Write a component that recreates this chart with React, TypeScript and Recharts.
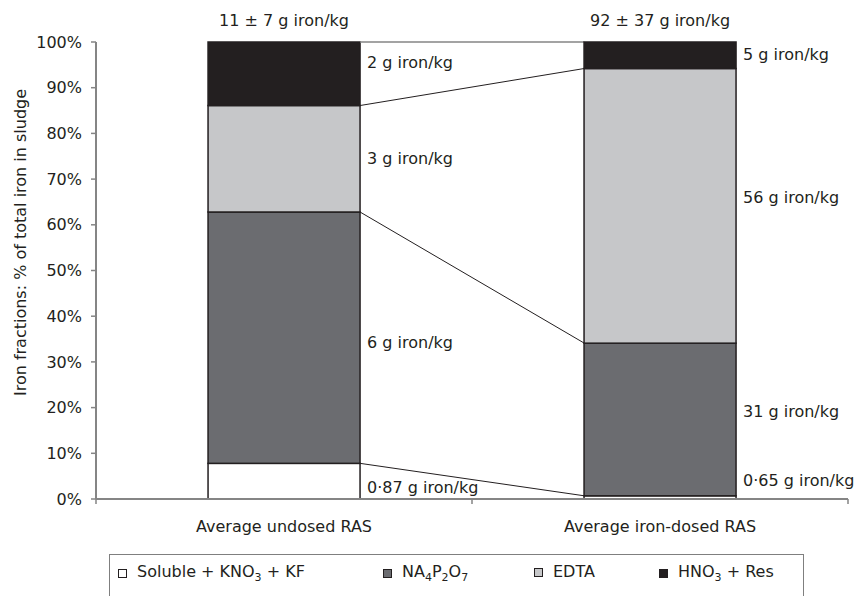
import React from "react"
import { BarChart, Bar, XAxis, YAxis, Label, LabelList, Legend } from "recharts"

const categories = ["Average undosed RAS", "Average iron-dosed RAS"]
const totals = ["11 ± 7 g iron/kg", "92 ± 37 g iron/kg"]

const seriesNames = ["Soluble + KNO_3 + KF", "NA_4P_2O_7", "EDTA", "HNO_3 + Res"]

// % of total iron
const soluble = [7.8, 0.7]
const pyro = [55.0, 33.4]
const edta = [23.3, 60.1]
const hno3 = [13.9, 5.8]

const solubleLabels = ["0·87 g iron/kg", "0·65 g iron/kg"]
const pyroLabels = ["6 g iron/kg", "31 g iron/kg"]
const edtaLabels = ["3 g iron/kg", "56 g iron/kg"]
const hno3Labels = ["2 g iron/kg", "5 g iron/kg"]

const yTicks = [0, 10, 20, 30, 40, 50, 60, 70, 80, 90, 100]

const FONT = '"DejaVu Sans", sans-serif'
const INK = "#231f20"
const AXIS = "#858585"
const GAP = 0.298 // barCategoryGap as a fraction of the band

const seriesKeys = ["soluble", "pyro", "edta", "hno3"]
const seriesValues = [soluble, pyro, edta, hno3]
const seriesLabels = [solubleLabels, pyroLabels, edtaLabels, hno3Labels]
const colors = ["#ffffff", "#6b6c70", "#c6c7c9", "#231f20"]

// manual label nudges (px) per series, per bar
const labelNudge: Record<string, number[]> = {
  soluble: [6, -17],
  pyro: [5, -8],
  edta: [0, -8],
  hno3: [-11, -1],
}

const data = categories.map((name, i) => {
  const row: Record<string, any> = { name, total: totals[i] }
  seriesKeys.forEach((k, s) => {
    row[k] = seriesValues[s][i]
    row[k + "Label"] = seriesLabels[s][i]
  })
  return row
})

// cumulative tops of every segment, for the series lines between the bars
const cumTops = categories.map((_, i) => {
  let sum = 0
  return seriesValues.map((vals) => (sum += vals[i]))
})

function withSubs(text: string) {
  return text.split(/(_\d)/).map((part, i) =>
    part.startsWith("_") ? (
      <span key={i} style={{ fontSize: 11, position: "relative", top: 4 }}>
        {part.slice(1)}
      </span>
    ) : (
      <span key={i}>{part}</span>
    )
  )
}

// bar segment + the series line from its top right corner to the same segment on the next bar
const segmentShape = (s: number) => (props: any) => {
  const { x, y, width, height, index } = props
  const value = seriesValues[s][index]
  let line = null
  if (index === 0 && value > 0 && height > 0) {
    const ppu = height / value
    const y0 = y + cumTops[0][s] * ppu
    const band = width / (1 - 2 * GAP)
    line = (
      <line
        x1={x + width}
        y1={y}
        x2={x + band}
        y2={y0 - cumTops[1][s] * ppu}
        stroke={s === 3 ? AXIS : INK}
        strokeWidth={s === 3 ? 1.5 : 1}
      />
    )
  }
  return (
    <g>
      <rect x={x} y={y} width={width} height={height} fill={colors[s]} stroke={INK} strokeWidth={1.5} />
      {line}
    </g>
  )
}

const segmentLabel = (key: string) => (props: any) => {
  const vb = props.viewBox ?? props
  const i = props.index ?? 0
  return (
    <text
      x={vb.x + vb.width + 7}
      y={vb.y + vb.height / 2 + (labelNudge[key][i] ?? 0)}
      dominantBaseline="central"
      fontFamily={FONT}
      fontSize={16}
      fill={INK}
    >
      {props.value}
    </text>
  )
}

const totalLabel = (props: any) => {
  const vb = props.viewBox ?? props
  return (
    <text
      x={vb.x + vb.width / 2}
      y={vb.y - 22}
      textAnchor="middle"
      dominantBaseline="central"
      fontFamily={FONT}
      fontSize={16}
      fill={INK}
    >
      {props.value}
    </text>
  )
}

// category label plus tick marks on the category boundaries
const XTick = (props: any) => {
  const { x, y, payload, width, index } = props
  const half = width / categories.length / 2
  return (
    <g>
      {index === 0 && (
        <line x1={x - half} x2={x - half} y1={y} y2={y + 5} stroke={AXIS} strokeWidth={1.5} />
      )}
      <line x1={x + half} x2={x + half} y1={y} y2={y + 5} stroke={AXIS} strokeWidth={1.5} />
      <text
        x={x}
        y={y + 27}
        textAnchor="middle"
        dominantBaseline="central"
        fontFamily={FONT}
        fontSize={16}
        fill={INK}
      >
        {payload.value}
      </text>
    </g>
  )
}

const YLabel = (props: any) => {
  const vb = props.viewBox
  const cx = vb.x + 20
  const cy = vb.y + vb.height / 2 - 28
  return (
    <text
      x={cx}
      y={cy}
      transform={`rotate(-90 ${cx} ${cy})`}
      textAnchor="middle"
      dominantBaseline="central"
      fontFamily={FONT}
      fontSize={16}
      fill={INK}
    >
      Iron fractions: % of total iron in sludge
    </text>
  )
}

const legendItemWidths = [265, 151, 125, 140]

const renderLegend = () => (
  <div
    style={{
      height: 44,
      boxSizing: "border-box",
      border: "1px solid #7f7f7f",
      display: "flex",
      alignItems: "flex-start",
      paddingLeft: 8,
      paddingTop: 7,
      fontFamily: FONT,
      fontSize: 16,
      lineHeight: "20px",
      color: INK,
    }}
  >
    {seriesNames.map((name, i) => (
      <div key={name} style={{ display: "flex", alignItems: "center", width: legendItemWidths[i] }}>
        <span
          style={{
            display: "inline-block",
            width: 7,
            height: 7,
            border: `1px solid ${INK}`,
            background: colors[i],
            marginRight: 10,
          }}
        />
        <span>{withSubs(name)}</span>
      </div>
    ))}
  </div>
)

export default function App() {
  return (
    <div
      style={{
        position: "absolute",
        left: 0,
        top: 0,
        width: 858,
        height: 596,
        overflow: "hidden",
        background: "#fff",
      }}
    >
      <BarChart
        width={858}
        height={596}
        data={data}
        margin={{ top: 42, right: 10, bottom: 0, left: 0 }}
        barCategoryGap={`${GAP * 100}%`}
      >
        <XAxis
          dataKey="name"
          interval={0}
          height={53}
          tickSize={0}
          tickMargin={0}
          tickLine={false}
          axisLine={{ stroke: AXIS, strokeWidth: 2 }}
          tick={<XTick />}
        />
        <YAxis
          domain={[0, 100]}
          ticks={yTicks}
          interval={0}
          width={96}
          tickSize={5}
          tickMargin={9}
          tickFormatter={(v) => `${v}%`}
          axisLine={{ stroke: AXIS, strokeWidth: 2 }}
          tickLine={{ stroke: AXIS, strokeWidth: 1.5 }}
          tick={{ fontSize: 16, fill: INK, fontFamily: FONT }}
        >
          <Label content={<YLabel />} />
        </YAxis>
        <Legend
          verticalAlign="bottom"
          content={renderLegend}
          wrapperStyle={{ left: 109, width: 695, bottom: -2 }}
        />

        {seriesKeys.map((key, s) => (
          <Bar
            key={key}
            dataKey={key}
            stackId="a"
            fill={colors[s]}
            stroke={INK}
            strokeWidth={1.5}
            shape={segmentShape(s)}
            isAnimationActive={false}
          >
            <LabelList dataKey={key + "Label"} content={segmentLabel(key)} />
            {key === "hno3" && <LabelList dataKey="total" content={totalLabel} />}
          </Bar>
        ))}
      </BarChart>
    </div>
  )
}
